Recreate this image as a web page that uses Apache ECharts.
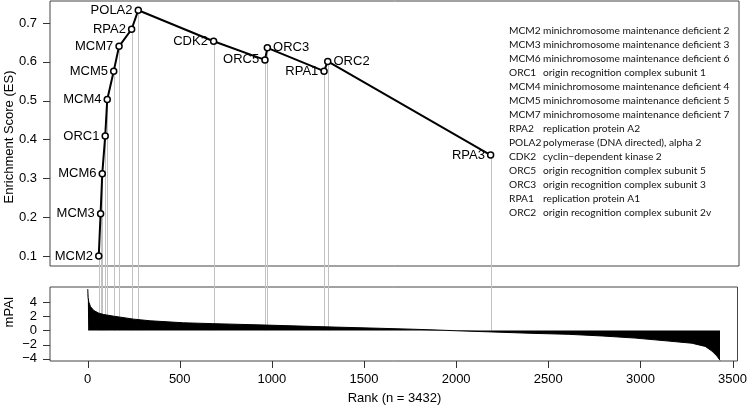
<!DOCTYPE html>
<html><head><meta charset="utf-8">
<script src="https://cdn.jsdelivr.net/npm/echarts@6/dist/echarts.min.js"></script>
<style>html,body{margin:0;padding:0;background:#fff}#c{width:750px;height:408px}</style>
</head><body><div id="c"></div>
<script>
// ---- data ----
const genes = ['MCM2','MCM3','MCM6','ORC1','MCM4','MCM5','MCM7','RPA2','POLA2','CDK2','ORC5','ORC3','RPA1','ORC2','RPA3'];
const geneRanks = [60, 70, 79, 95, 106, 141, 170, 238, 274, 682, 960, 973, 1280, 1300, 2182];
const geneES = [0.100, 0.209, 0.312, 0.409, 0.503, 0.576, 0.640, 0.684, 0.733, 0.653, 0.605, 0.636, 0.576, 0.601, 0.360];

const mpaiRanks = [1, 3, 7, 16, 34, 61, 88, 142, 251, 341, 521, 680, 969, 1294, 1583, 1762, 1900, 2000, 2200, 2400, 2612, 2792, 2973, 3153, 3279, 3352, 3388, 3415, 3432];
const mpaiValues = [5.8, 4.6, 3.96, 3.34, 2.79, 2.42, 2.23, 2.0, 1.58, 1.35, 1.07, 0.95, 0.75, 0.5, 0.3, 0.17, 0.05, -0.05, -0.22, -0.4, -0.55, -0.78, -1.08, -1.5, -1.8, -2.25, -2.9, -3.6, -4.2];

const rankTicks = [0, 500, 1000, 1500, 2000, 2500, 3000, 3500];
const esTicks = [0.1, 0.2, 0.3, 0.4, 0.5, 0.6, 0.7];
const mpaiTicks = [-4, -2, 0, 2, 4];

const legendSymbols = ['MCM2','MCM3','MCM6','ORC1','MCM4','MCM5','MCM7','RPA2','POLA2','CDK2','ORC5','ORC3','RPA1','ORC2'];
const legendNames = [
  'minichromosome maintenance deficient 2',
  'minichromosome maintenance deficient 3',
  'minichromosome maintenance deficient 6',
  'origin recognition complex subunit 1',
  'minichromosome maintenance deficient 4',
  'minichromosome maintenance deficient 5',
  'minichromosome maintenance deficient 7',
  'replication protein A2',
  'polymerase (DNA directed), alpha 2',
  'cyclin\u2212dependent kinase 2',
  'origin recognition complex subunit 5',
  'origin recognition complex subunit 3',
  'replication protein A1',
  'origin recognition complex subunit 2v'
];

// ---- label placement (style) ----
const labelPlace = {
  CDK2: {position: 'left', offset: [0, 5]},
  ORC5: {position: 'left', offset: [0, 7]},
  ORC3: {position: 'right', offset: [0, -4]},
  RPA1: {position: 'left', offset: [1, 6]},
  ORC2: {position: 'right', offset: [0, -2]},
  RPA3: {position: 'left', offset: [0, 5]}
};

const FONT = '"Liberation Sans", Arial, Helvetica, sans-serif';
const chart = echarts.init(document.getElementById('c'), null, {renderer: 'canvas'});

const axisText = {color: '#000', fontSize: 13, fontFamily: FONT};
const X_MIN = -204, X_MAX = 3527;
const ES_MIN = 0.0742, ES_MAX = 0.7567;
const MP_MIN = -4.3, MP_MAX = 6.1;
const TICK = 7;

const option = {
  animation: false,
  backgroundColor: '#fff',
  grid: [
    {left: 50, top: 1, width: 689, height: 265, show: true, borderColor: '#444', borderWidth: 1, backgroundColor: 'transparent'},
    {left: 50, top: 287, width: 689, height: 74, show: true, borderColor: '#444', borderWidth: 1, backgroundColor: 'transparent'}
  ],
  xAxis: [
    {gridIndex: 0, type: 'value', min: X_MIN, max: X_MAX, show: false, splitLine: {show: false}},
    {gridIndex: 1, type: 'value', min: X_MIN, max: X_MAX, position: 'bottom',
      axisLine: {show: false, onZero: false}, splitLine: {show: false}, axisTick: {show: false},
      axisLabel: Object.assign({customValues: rankTicks, margin: 12, formatter: v => String(v)}, axisText)}
  ],
  yAxis: [
    {gridIndex: 0, type: 'value', min: ES_MIN, max: ES_MAX, position: 'left',
      axisLine: {show: false, onZero: false}, splitLine: {show: false}, axisTick: {show: false},
      axisLabel: Object.assign({customValues: esTicks, margin: 13, formatter: v => v.toFixed(1)}, axisText)},
    {gridIndex: 1, type: 'value', min: MP_MIN, max: MP_MAX, position: 'left',
      axisLine: {show: false, onZero: false}, splitLine: {show: false}, axisTick: {show: false},
      axisLabel: Object.assign({customValues: mpaiTicks, margin: 13,
        formatter: v => (v < 0 ? '\u2212' + (-v) : String(v))}, axisText)}
  ],
  series: [
    {
      type: 'line', xAxisIndex: 1, yAxisIndex: 1, z: 3,
      data: mpaiRanks.map((r, i) => [r, mpaiValues[i]]),
      showSymbol: false, symbol: 'none',
      lineStyle: {color: '#000', width: 1},
      areaStyle: {color: '#000', opacity: 1, origin: 0},
      silent: true
    },
    {
      type: 'line', xAxisIndex: 0, yAxisIndex: 0, z: 4,
      data: genes.map((g, i) => {
        const lp = labelPlace[g] || {position: 'left', offset: [0, 0]};
        return {name: g, value: [geneRanks[i], geneES[i]], label: {position: lp.position, offset: lp.offset}};
      }),
      symbol: 'circle', symbolSize: 6, showSymbol: true,
      lineStyle: {color: '#000', width: 2},
      itemStyle: {color: '#fff', borderColor: '#000', borderWidth: 1.5},
      label: {show: true, formatter: '{b}', distance: 2, color: '#000', fontSize: 13, fontFamily: FONT},
      labelLayout: {hideOverlap: false},
      silent: true
    }
  ]
};
chart.setOption(option);

const elements = [];
// tick marks as small filled rects, placed through the axis scales
const tickRect = (x, y, w, h) => ({type: 'rect', z: 10, silent: true,
  shape: {x: x, y: y, width: w, height: h}, style: {fill: '#333', stroke: null}});
esTicks.forEach(t => {
  const p = chart.convertToPixel({gridIndex: 0}, [X_MIN, t]);
  elements.push(tickRect(Math.round(p[0]) - TICK, Math.round(p[1]), TICK, 1));
});
mpaiTicks.forEach(t => {
  const p = chart.convertToPixel({gridIndex: 1}, [X_MIN, t]);
  elements.push(tickRect(Math.round(p[0]) - TICK, Math.round(p[1]), TICK, 1));
});
rankTicks.forEach(t => {
  const p = chart.convertToPixel({gridIndex: 1}, [t, MP_MIN]);
  elements.push(tickRect(Math.round(p[0]), Math.round(p[1]), 1, TICK));
});

// grey vertical connectors from each gene point to its rank in the lower panel
genes.forEach((g, i) => {
  const p1 = chart.convertToPixel({gridIndex: 0}, [geneRanks[i], geneES[i]]);
  const p2 = chart.convertToPixel({gridIndex: 1}, [geneRanks[i], 0]);
  const x = Math.round(p1[0]) + 0.5;
  elements.push({type: 'line', z: 0, silent: true,
    shape: {x1: x, y1: p1[1], x2: x, y2: p2[1]},
    style: {stroke: '#c2c2c2', lineWidth: 1}});
});
// axis titles
elements.push({type: 'text', x: 9, y: 137, rotation: Math.PI / 2, z: 5,
  style: {text: 'Enrichment Score (ES)', font: '13px ' + FONT, fill: '#000', align: 'center', verticalAlign: 'middle'}});
elements.push({type: 'text', x: 9, y: 312, rotation: Math.PI / 2, z: 5,
  style: {text: 'mPAI', font: '13px ' + FONT, fill: '#000', align: 'center', verticalAlign: 'middle'}});
elements.push({type: 'text', x: 394.5, y: 398, z: 5,
  style: {text: 'Rank (n = 3432)', font: '13px ' + FONT, fill: '#000', align: 'center', verticalAlign: 'middle'}});
// gene legend
legendSymbols.forEach((s, i) => {
  const y = 31 + i * 14;
  elements.push({type: 'text', x: 509, y: y, z: 5,
    style: {text: s, font: '10.2px Lato, "Open Sans", sans-serif', fill: '#111', align: 'left', verticalAlign: 'middle'}});
  elements.push({type: 'text', x: 543, y: y, z: 5,
    style: {text: legendNames[i], font: '10.2px Lato, "Open Sans", sans-serif', fill: '#111', align: 'left', verticalAlign: 'middle'}});
});
chart.setOption({graphic: {elements: elements}});
</script>
</body></html>
